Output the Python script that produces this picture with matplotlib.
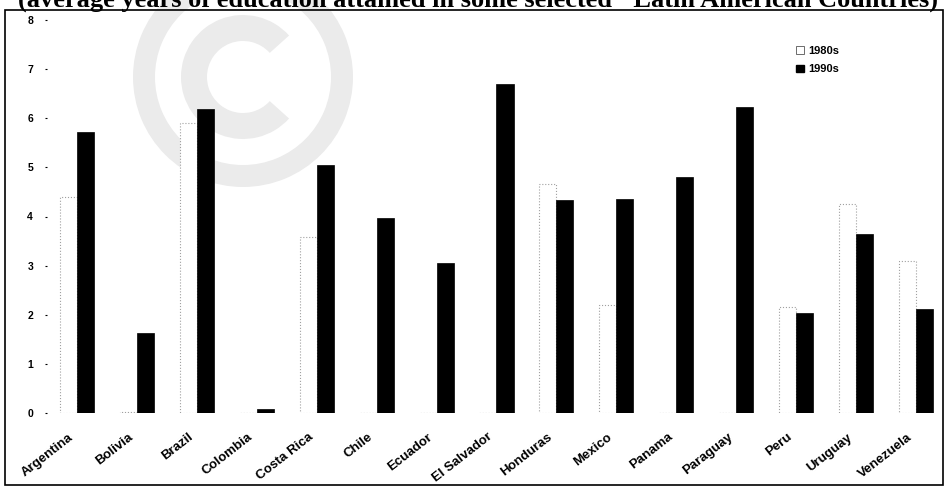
import numpy as np
import matplotlib
matplotlib.use("Agg")
import matplotlib.pyplot as plt
from matplotlib.patches import Wedge, Rectangle, Patch
from matplotlib.transforms import ScaledTranslation

# Average years of education, 1980s vs 1990s
countries = ["Argentina", "Bolivia", "Brazil", "Colombia", "Costa Rica", "Chile",
             "Ecuador", "El Salvador", "Honduras", "Mexico", "Panama", "Paraguay",
             "Peru", "Uruguay", "Venezuela"]
years_1980s = [4.40, 0.02, 5.90, 0.0, 3.58, 0.0, 0.0, 0.0, 4.66, 2.19, 0.0, 0.0, 2.15, 4.25, 3.10]
years_1990s = [5.72, 1.63, 6.19, 0.08, 5.05, 3.97, 3.05, 6.70, 4.34, 4.36, 4.81, 6.23, 2.04, 3.65, 2.12]
y_ticks = [0, 1, 2, 3, 4, 5, 6, 7, 8]

W, H = 945, 487
fig = plt.figure(figsize=(W / 100, H / 100), dpi=100)
fig.patch.set_facecolor("white")

# light copyright mark behind the chart
bg = fig.add_axes([0, 0, 1, 1], zorder=0)
bg.set_xlim(0, W)
bg.set_ylim(H, 0)
bg.axis("off")
wm = "#ebebeb"
bg.add_patch(Wedge((243, 77), 110, 0, 360, width=22, color=wm, lw=0))
bg.add_patch(Wedge((243, 77), 62, 42, 318, width=26, color=wm, lw=0))
# chart border
bg.add_patch(Rectangle((5, 10), W - 7, H - 12, fill=False, ec="black", lw=1.2))

ax = fig.add_axes([47 / W, (H - 413) / H, 899 / W, 393 / H], zorder=1)
ax.patch.set_alpha(0)

x = np.arange(len(countries))
w = 0.284
ax.bar(x - w / 2, years_1980s, w, color="white", edgecolor="#a0a0a0",
       linestyle=":", linewidth=0.8, label="1980s")
ax.bar(x + w / 2, years_1990s, w, color="black", edgecolor="black",
       linewidth=0.5, label="1990s")

ax.set_xlim(-0.5, len(countries) - 0.5)
ax.set_ylim(0, 8)
for s in ax.spines.values():
    s.set_visible(False)

ax.set_yticks(y_ticks)
ax.set_yticklabels([str(t) for t in y_ticks], fontsize=7.5, fontweight="bold",
                   family="Liberation Sans")
ax.tick_params(axis="y", length=1.5, width=0.8, pad=8.5)

ax.set_xticks(x)
ax.set_xticklabels(countries, rotation=38, ha="right", rotation_mode="anchor",
                   fontsize=9.5, fontweight="bold", family="Liberation Sans")
ax.tick_params(axis="x", length=0, pad=13)
shift = ScaledTranslation(-9 / 100, 0, fig.dpi_scale_trans)
for lab in ax.get_xticklabels():
    lab.set_transform(lab.get_transform() + shift)

handles = [Patch(facecolor="white", edgecolor="#555555", lw=0.6, label="1980s"),
           Patch(facecolor="black", edgecolor="black", label="1990s")]
ax.legend(handles=handles, loc="upper left", bbox_to_anchor=(786 / W, (H - 36) / H),
          bbox_transform=fig.transFigure, frameon=False,
          handlelength=0.7, handleheight=0.7, handletextpad=0.4,
          labelspacing=0.75, prop={"family": "Liberation Sans", "weight": "bold", "size": 8})

fig.text(478 / W, (H - 7) / H,
         '(average years of education attained in some selected "Latin American Countries)',
         ha="center", va="baseline", fontsize=19, fontweight="bold",
         family="Liberation Serif")

fig.savefig("out.png", dpi=100, facecolor="white")
